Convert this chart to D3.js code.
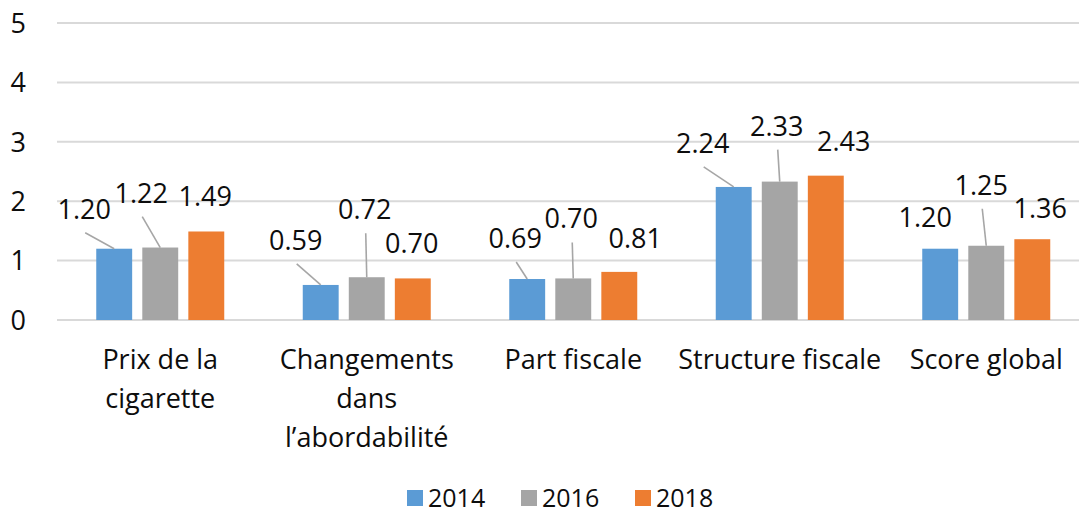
<!DOCTYPE html>
<html>
<head>
<meta charset="utf-8">
<script src="https://cdn.jsdelivr.net/npm/d3@7"></script>
<style>
  html, body { margin: 0; padding: 0; background: #fff; }
  svg { display: block; font-family: "Open Sans", "Liberation Sans", sans-serif; }
</style>
</head>
<body>
<div id="chart"></div>
<script>
// Données
const CATEGORIES = [
  ["Prix de la", "cigarette"],
  ["Changements", "dans", "l\u2019abordabilité"],
  ["Part fiscale"],
  ["Structure fiscale"],
  ["Score global"]
];
const SERIES  = ["2014", "2016", "2018"];
const V2014   = [1.20, 0.59, 0.69, 2.24, 1.20];
const V2016   = [1.22, 0.72, 0.70, 2.33, 1.25];
const V2018   = [1.49, 0.70, 0.81, 2.43, 1.36];
const Y_TICKS = [0, 1, 2, 3, 4, 5];

const COLORS = ["#5b9bd5", "#a5a5a5", "#ed7d31"];

// Etiquettes déplacées à la main (dx, dy en px par rapport au haut de la barre)
const LABEL_NUDGE = [
  [[-30, -30], [-25, -35], [-12, -31], [-31, -34], [-15, -22]],
  [[-19, -45], [-2, -58], [-2, -50], [-3, -46], [-5, -51]],
  [[-1, -25], [-1, -25], [16, -24], [18, -25], [8, -21]]
];

const values = [V2014, V2016, V2018];
const catKeys = CATEGORIES.map(c => c.join(" "));

const W = 1079, H = 516;
const FS = 27;
const INK = "#0d0d0d";

const svg = d3.select("#chart").append("svg").attr("width", W).attr("height", H);

const x0 = d3.scaleBand().domain(catKeys).range([57, 1089.5]);
const x1 = d3.scaleBand().domain(SERIES).range([-64, 64]).paddingInner(0.22);
const y  = d3.scaleLinear().domain([0, 5]).range([320, 23]);

// Grille
svg.append("g").selectAll("line").data(Y_TICKS).join("line")
  .attr("x1", 57).attr("x2", W)
  .attr("y1", d => y(d)).attr("y2", d => y(d))
  .attr("stroke", "#d9d9d9").attr("stroke-width", 2);

// Axe Y (texte seulement)
svg.append("g").selectAll("text").data(Y_TICKS).join("text")
  .attr("x", 26).attr("y", d => y(d)).attr("dy", "0.36em")
  .attr("text-anchor", "end").attr("font-size", FS).attr("fill", INK)
  .text(d => d);

// Barres
const rows = [];
SERIES.forEach((s, si) => catKeys.forEach((c, ci) => {
  const cx = x0(c) + x0.bandwidth() / 2 + x1(s) + x1.bandwidth() / 2;
  rows.push({ s, si, c, ci, v: values[si][ci], cx });
}));

svg.append("g").selectAll("rect").data(rows).join("rect")
  .attr("x", d => d.cx - x1.bandwidth() / 2)
  .attr("width", x1.bandwidth())
  .attr("y", d => y(d.v))
  .attr("height", d => y(0) - y(d.v))
  .attr("fill", d => COLORS[d.si]);

// Lignes de repère
const lab = rows.map(d => {
  const [dx, dy] = LABEL_NUDGE[d.si][d.ci];
  return { ...d, lx: d.cx + dx, ly: y(d.v) + dy, leader: dy < -28 };
});

svg.append("g").selectAll("line").data(lab.filter(d => d.leader)).join("line")
  .attr("x1", d => d.lx + 1).attr("y1", d => d.ly + 14)
  .attr("x2", d => d.cx).attr("y2", d => y(d.v))
  .attr("stroke", "#a6a6a6").attr("stroke-width", 1.6);

// Etiquettes de données
svg.append("g").selectAll("text").data(lab).join("text")
  .attr("x", d => d.lx).attr("y", d => d.ly)
  .attr("text-anchor", "middle").attr("font-size", FS).attr("fill", INK)
  .text(d => d3.format(".2f")(d.v));

// Catégories
const cat = svg.append("g").selectAll("text").data(CATEGORIES).join("text")
  .attr("text-anchor", "middle").attr("font-size", FS).attr("fill", INK)
  .attr("transform", (d, i) => `translate(${x0(catKeys[i]) + x0.bandwidth() / 2},369)`);
cat.selectAll("tspan").data(d => d).join("tspan")
  .attr("x", 0).attr("y", (d, i) => i * 39).text(d => d);

// Légende
const legend = svg.append("g").attr("transform", "translate(407,0)");
const LSTEP = 114;
const items = legend.selectAll("g").data(SERIES).join("g")
  .attr("transform", (d, i) => `translate(${i * LSTEP},0)`);
items.append("rect").attr("y", 490).attr("width", 16).attr("height", 16)
  .attr("fill", (d, i) => COLORS[i]);
items.append("text").attr("x", 21).attr("y", 507)
  .attr("font-size", 25).attr("fill", INK).text(d => d);
</script>
</body>
</html>
